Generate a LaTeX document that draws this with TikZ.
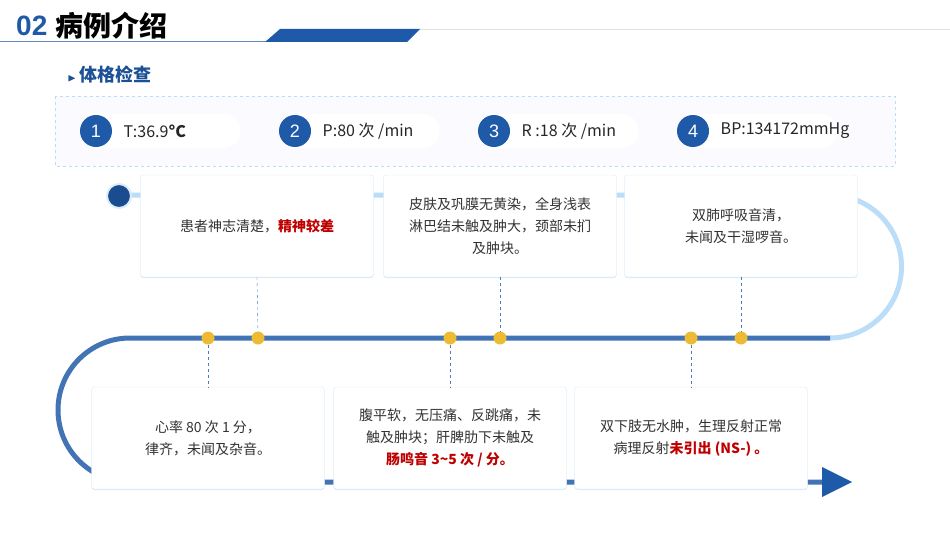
\documentclass[tikz,border=0pt]{standalone}
\usepackage{amssymb}
\usepackage{fontspec}
\setmainfont{Liberation Sans}
\newfontfamily\cjk{Noto Sans CJK SC}
\usetikzlibrary{positioning,shadows}
\definecolor{navy}{HTML}{1F5AA8}
\definecolor{pale}{HTML}{BCDDF7}
\definecolor{gold}{HTML}{EDBB33}
\definecolor{darkred}{HTML}{C00000}
\tikzset{
  card/.style={draw=pale!60,fill=white,rounded corners=3pt,minimum width=233pt,minimum height=102pt,
    align=center,font=\cjk\fontsize{14}{22}\selectfont,text=black!80,
    drop shadow={shadow xshift=0pt,shadow yshift=-1pt,fill=pale,opacity=.6}},
  pill/.style={fill=white,rounded corners=16pt,minimum width=160pt,minimum height=34pt},
  num/.style={circle,fill=navy,text=white,minimum size=32pt,font=\fontsize{18}{18}\selectfont},
  val/.style={font=\cjk\fontsize{16}{18}\selectfont,text=black!85,anchor=west},
  dot/.style={circle,fill=gold,minimum size=13pt,inner sep=0pt},
  link/.style={navy!80,dashed,thin}
}
\begin{document}
\begin{tikzpicture}[x=1pt,y=-1pt]
\useasboundingbox (0,0) rectangle (950,535);
% header
\node[anchor=west,font=\bfseries\fontsize{28}{28}\selectfont,text=navy,inner sep=0pt] (no) at (16,26) {02};
\node[anchor=west,font=\cjk\bfseries\fontsize{28}{28}\selectfont,inner sep=0pt,right=8pt of no] (head) {病例介绍};
\draw[navy!70,thick] (0,41) -- (272,41);
\fill[navy] (265,42) -- (280,29) -- (420,29) -- (407,42) -- cycle;
\draw[black!12] (420,29) -- (950,29);
\node[anchor=west,font=\cjk\bfseries\fontsize{18}{18}\selectfont,text=navy!90!black] (sub) at (64,75) {{\fontsize{11}{11}\selectfont$\blacktriangleright$}\,体格检查};
% vitals
\draw[pale,dashed,fill=blue!2] (55,96) rectangle (895,166);
\foreach \x/\i/\t in {80/1/{T:36.9\textbf{°C}},279/2/{P:80 次 /min},478/3/{R :18 次 /min},677/4/{BP:134172mmHg}}{
  \node[pill,anchor=west] at (\x,131) {};
  \node[num] (n\i) at (\x+16,131) {\i};
  \node[val,right=8pt of n\i] {\t};
}
% track
\draw[pale,line width=5pt] (119,195) -- (830,195) arc (-90:90:71.5);
\draw[navy!85,line width=5pt] (830,338) -- (130,338) arc (270:90:72) -- (828,482);
\fill[navy] (822,467) -- (852,482) -- (822,497) -- cycle;
\node[circle,fill=navy!85!black,draw=pale!50,line width=2pt,minimum size=24pt] (start) at (119,196) {};
% cards
\node[card] (c1) at (257,226) {患者神志清楚，\textcolor{darkred}{\bfseries 精神较差}};
\node[card] (c2) at (500,226) {皮肤及巩膜无黄染，全身浅表\\淋巴结未触及肿大，颈部未扪\\及肿块。};
\node[card] (c3) at (741,226) {双肺呼吸音清，\\未闻及干湿啰音。};
\node[card] (c4) at (208,438) {心率 80 次 1 分，\\律齐，未闻及杂音。};
\node[card] (c5) at (450,438) {腹平软，无压痛、反跳痛，未\\触及肿块；肝脾肋下未触及\\\textcolor{darkred}{\bfseries 肠鸣音 3\textasciitilde5 次 / 分。}};
\node[card] (c6) at (691,438) {双下肢无水肿，生理反射正常\\病理反射\textcolor{darkred}{\bfseries 未引出 (NS-) 。}};
% dots and links
\foreach \x/\c in {258/c1,500/c2,741/c3}{
  \node[dot] (d\c) at (\x,338) {};
  \draw[link] (\c.south) -- (d\c);
}
\foreach \x/\c in {208/c4,450/c5,691/c6}{
  \node[dot] (d\c) at (\x,338) {};
  \draw[link] (d\c) -- (\c.north);
}
\end{tikzpicture}
\end{document}
